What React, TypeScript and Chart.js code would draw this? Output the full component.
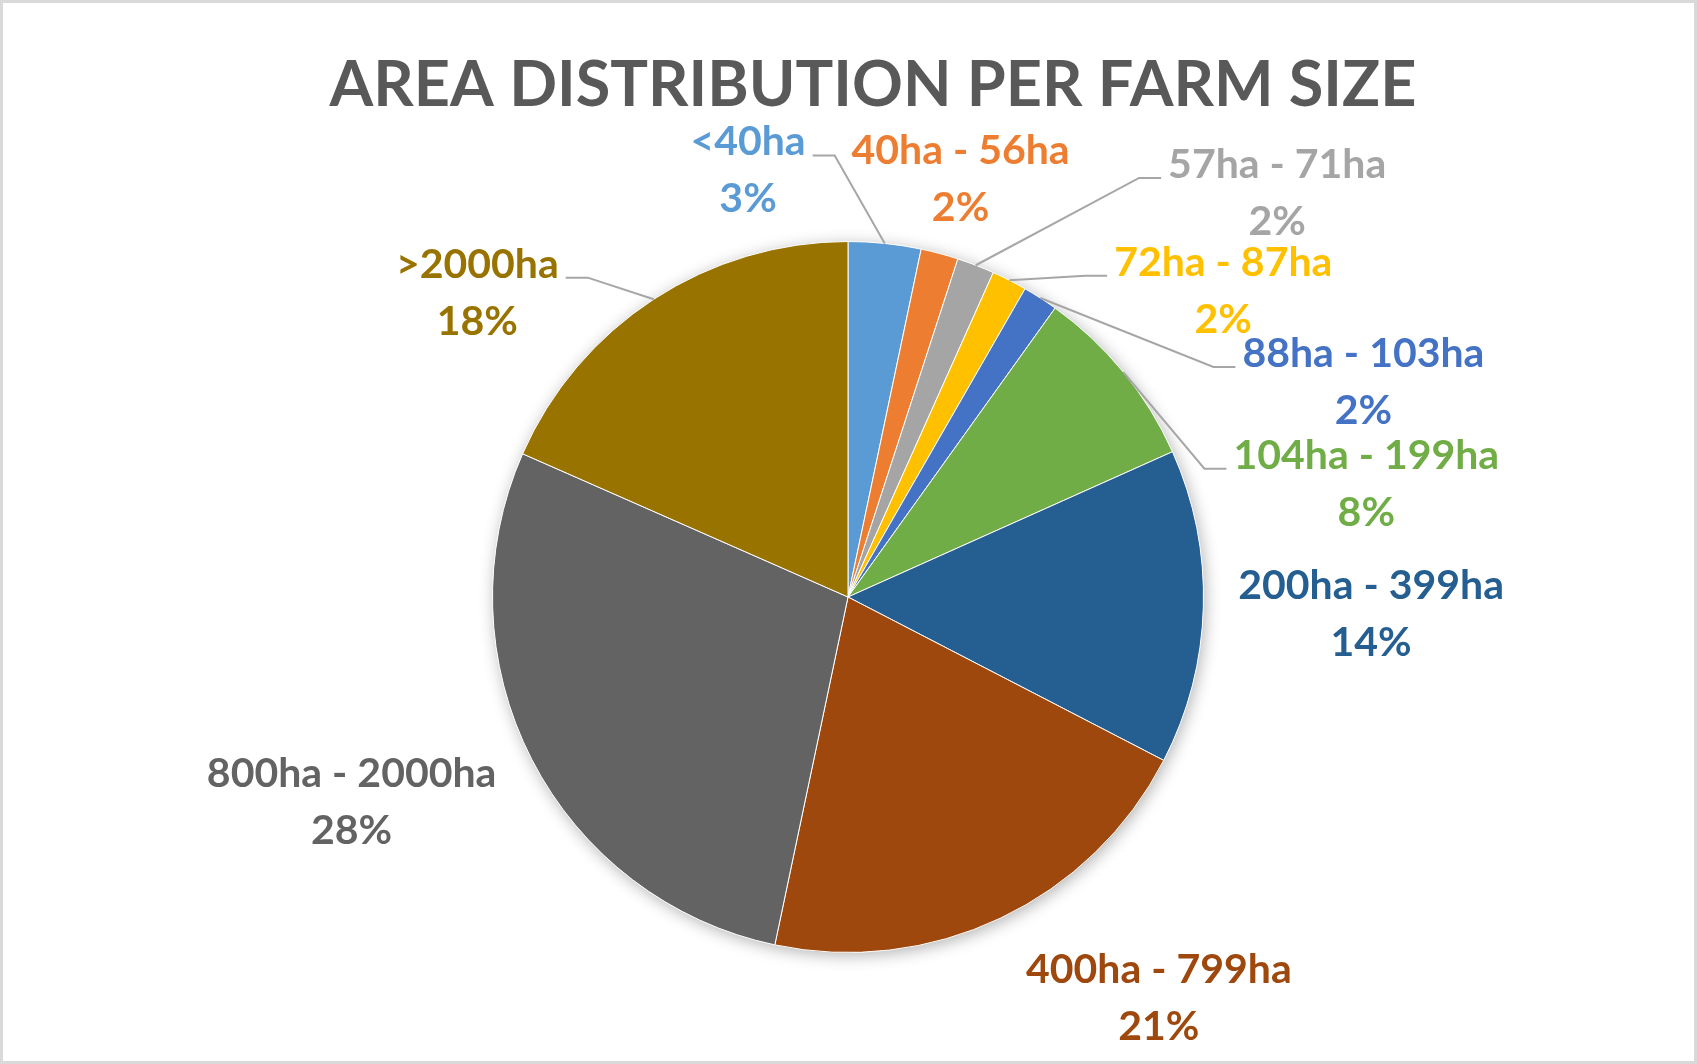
import { useEffect, useRef } from "react";
import { Chart, registerables } from "chart.js";
import type { Plugin } from "chart.js";

Chart.register(...registerables);

const chartTitle = "AREA DISTRIBUTION PER FARM SIZE";

const categories = [
  "<40ha",
  "40ha - 56ha",
  "57ha - 71ha",
  "72ha - 87ha",
  "88ha - 103ha",
  "104ha - 199ha",
  "200ha - 399ha",
  "400ha - 799ha",
  "800ha - 2000ha",
  ">2000ha",
];

// share of total area (%)
const areaShare = [3.3, 1.7, 1.7, 1.6, 1.6, 8.4, 14.3, 20.7, 28.3, 18.4];

const sliceColors = [
  "#5b9bd5",
  "#ed7d31",
  "#a5a5a5",
  "#ffc000",
  "#4472c4",
  "#70ad47",
  "#255e91",
  "#9e480e",
  "#636363",
  "#997300",
];

// where each label sits: distance from the centre in radii, and how far
// (degrees) it is turned away from the middle of its slice
const labelDistance = [1.235, 1.22, 1.66, 1.364, 1.572, 1.493, 1.472, 1.424, 1.51, 1.351];
const labelTurn = [-19.1, 0.1, 25.6, 23.7, 34.5, 26.8, 0.1, -12.5, 4.8, -17.4];
const hasLeader = [true, false, true, true, true, true, false, false, false, true];

const LABEL_FONT = "bold 41px Lato, 'Open Sans', sans-serif";
const TITLE_FONT = "bold 63px Lato, 'Open Sans', sans-serif";

const pieDecorations: Plugin<"pie"> = {
  id: "pieDecorations",
  beforeDatasetsDraw(chart) {
    // soft shadow under the whole pie
    const first = chart.getDatasetMeta(0).data[0] as any;
    if (!first) return;
    const { x, y, outerRadius } = first.getProps(["x", "y", "outerRadius"], true);
    const ctx = chart.ctx;
    ctx.save();
    ctx.shadowColor = "rgba(0, 0, 0, 0.3)";
    ctx.shadowBlur = 16;
    ctx.shadowOffsetX = 2;
    ctx.shadowOffsetY = 3;
    ctx.fillStyle = "#ffffff";
    ctx.beginPath();
    ctx.arc(x, y, outerRadius, 0, Math.PI * 2);
    ctx.fill();
    ctx.restore();
  },
  afterDatasetsDraw(chart) {
    const ctx = chart.ctx;
    const values = chart.data.datasets[0].data as number[];
    const total = values.reduce((a, b) => a + b, 0);

    ctx.save();
    ctx.font = LABEL_FONT;
    chart.getDatasetMeta(0).data.forEach((el, i) => {
      const { x, y, startAngle, endAngle, outerRadius } = (el as any).getProps(
        ["x", "y", "startAngle", "endAngle", "outerRadius"],
        true
      );
      const mid = (startAngle + endAngle) / 2;
      const turn = mid + (labelTurn[i] * Math.PI) / 180;
      const dist = outerRadius * labelDistance[i];
      const lx = x + dist * Math.cos(turn);
      const ly = y + dist * Math.sin(turn);

      const name = categories[i];
      const pct = Math.round((values[i] / total) * 100) + "%";
      const w = ctx.measureText(name).width;

      if (hasLeader[i]) {
        const ex = x + outerRadius * Math.cos(mid);
        const ey = y + outerRadius * Math.sin(mid);
        const labelOnRight = lx > ex;
        const endX = labelOnRight ? lx - w / 2 - 7 : lx + w / 2 + 7;
        const kneeX = labelOnRight ? endX - 22 : endX + 22;
        const endY = ly - 14;
        ctx.strokeStyle = "#a6a6a6";
        ctx.lineWidth = 2;
        ctx.beginPath();
        ctx.moveTo(ex, ey);
        ctx.lineTo(kneeX, endY);
        ctx.lineTo(endX, endY);
        ctx.stroke();
      }

      ctx.fillStyle = sliceColors[i];
      ctx.textAlign = "center";
      ctx.textBaseline = "alphabetic";
      ctx.fillText(name, lx, ly - 14);
      ctx.fillText(pct, lx, ly + 43);
    });
    ctx.restore();
  },
  afterDraw(chart) {
    const ctx = chart.ctx;
    ctx.save();
    ctx.font = TITLE_FONT;
    ctx.fillStyle = "#595959";
    ctx.textAlign = "center";
    ctx.textBaseline = "alphabetic";
    ctx.fillText(chartTitle, 873, 106);

    // outer frame
    ctx.strokeStyle = "#d9d9d9";
    ctx.lineWidth = 3;
    ctx.strokeRect(1.5, 1.5, chart.width - 3, chart.height - 3);
    ctx.restore();
  },
};

export default function App() {
  const chartRef = useRef<HTMLCanvasElement>(null);
  const chartInstance = useRef<Chart | null>(null);

  useEffect(() => {
    if (!chartRef.current) return;
    let cancelled = false;

    const build = () => {
      if (cancelled || !chartRef.current) return;
      if (chartInstance.current) {
        chartInstance.current.destroy();
      }
      const ctx = chartRef.current.getContext("2d");
      if (!ctx) return;

      chartInstance.current = new Chart(ctx, {
        type: "pie",
        data: {
          labels: categories,
          datasets: [
            {
              data: areaShare,
              backgroundColor: sliceColors,
              borderColor: "#ffffff",
              borderWidth: 1,
            },
          ],
        },
        options: {
          responsive: true,
          maintainAspectRatio: false,
          animation: false,
          layout: {
            padding: { top: 241, bottom: 111, left: 100, right: 101 },
          },
          plugins: {
            legend: { display: false },
            tooltip: { enabled: false },
          },
        },
        plugins: [pieDecorations],
      });
    };

    const fonts = (document as any).fonts;
    if (fonts && fonts.load) {
      Promise.all([fonts.load(LABEL_FONT), fonts.load(TITLE_FONT)])
        .catch(() => null)
        .then(build);
    } else {
      build();
    }

    return () => {
      cancelled = true;
      if (chartInstance.current) {
        chartInstance.current.destroy();
        chartInstance.current = null;
      }
    };
  }, []);

  return (
    <div
      style={{
        position: "fixed",
        left: 0,
        top: 0,
        width: 1697,
        height: 1064,
        background: "#ffffff",
      }}
    >
      <canvas ref={chartRef}></canvas>
    </div>
  );
}
